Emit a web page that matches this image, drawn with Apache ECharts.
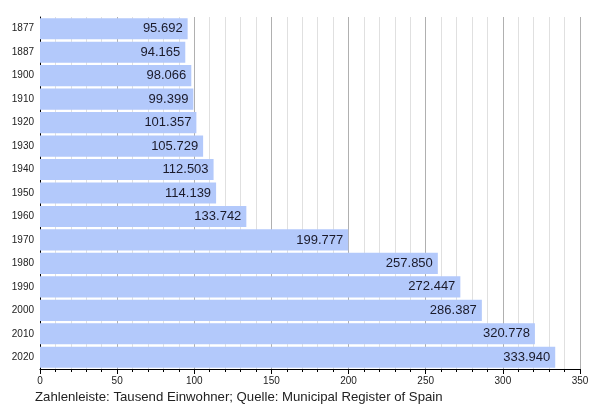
<!DOCTYPE html>
<html><head><meta charset="utf-8">
<script src="https://cdn.jsdelivr.net/npm/echarts@6/dist/echarts.min.js"></script>
<style>html,body{margin:0;padding:0;background:#fff}#c{width:600px;height:408px}</style>
</head><body><div id="c"></div>
<script>
const years = ["1877","1887","1900","1910","1920","1930","1940","1950","1960","1970","1980","1990","2000","2010","2020"];
const population = [95.692,94.165,98.066,99.399,101.357,105.729,112.503,114.139,133.742,199.777,257.850,272.447,286.387,320.778,333.940];
const xTicks = [0,50,100,150,200,250,300,350];
const caption = "Zahlenleiste: Tausend Einwohner; Quelle: Municipal Register of Spain";

const chart = echarts.init(document.getElementById('c'), null, {renderer:'canvas'});
chart.setOption({
  animation:false,
  textStyle:{fontFamily:'Liberation Sans, Arial, sans-serif'},
  grid:{left:40,right:20,top:17,bottom:39,containLabel:false},
  graphic:[{type:'text',left:35,top:391,style:{text:caption,font:'13.2px Liberation Sans, Arial, sans-serif',fill:'#222'}}],
  xAxis:{type:'value',min:xTicks[0],max:xTicks[xTicks.length-1],interval:50,
    axisLine:{show:true,onZero:false,lineStyle:{color:'#000',width:1}},
    axisTick:{show:true,length:5,lineStyle:{color:'#000'}},
    minorTick:{show:true,splitNumber:5,length:3,lineStyle:{color:'#000'}},
    axisLabel:{color:'#222',fontSize:10,margin:7},
    splitLine:{show:true,lineStyle:{color:'#b0b0b0',width:1}},
    minorSplitLine:{show:true,lineStyle:{color:'#e0e0e0',width:1}}},
  yAxis:{type:'category',data:years,inverse:true,
    axisLine:{show:true,lineStyle:{color:'#000'}},
    axisTick:{show:false},
    axisLabel:{color:'#222',fontSize:10,margin:6}},
  series:[{type:'bar',data:population,barCategoryGap:'10%',
    itemStyle:{color:'#b3c9fb'},
    label:{show:true,position:'insideRight',distance:5,color:'#1a1a2a',fontSize:13,
      formatter:p=>p.value.toFixed(3)}}]
});
</script></body></html>
